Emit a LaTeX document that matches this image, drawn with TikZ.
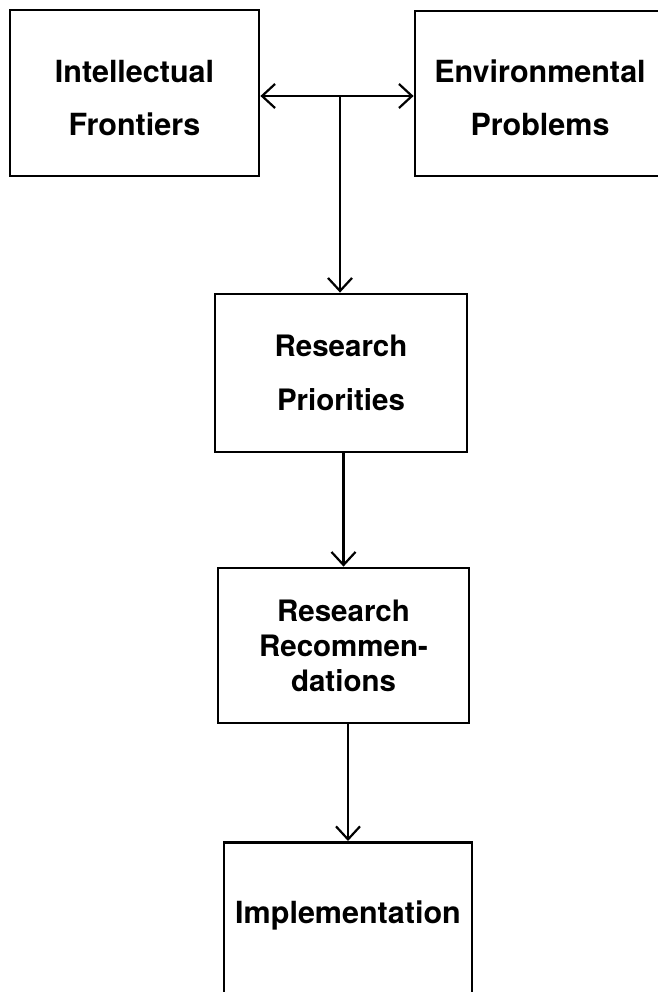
\documentclass[tikz,border=0pt]{standalone}
\usepackage{fontspec}
\setmainfont{TeX Gyre Heros}
\usetikzlibrary{arrows.meta}
\newcommand{\topstrut}{\rule{0pt}{31.5pt}}
\tikzset{
  box/.style={draw, line width=2.8pt, inner sep=0pt, align=center,
    font=\bfseries\fontsize{30.5}{53}\selectfont},
  boxtight/.style={box, font=\bfseries\fontsize{29.5}{35}\selectfont},
  conn/.style={line width=2.2pt, -{Straight Barb[length=13pt,width=24pt]}},
  connboth/.style={line width=2.2pt, {Straight Barb[length=13pt,width=24pt]}-{Straight Barb[length=13pt,width=24pt]}}
}
\begin{document}
\begin{tikzpicture}[x=1pt,y=1pt]
\useasboundingbox (0,0) rectangle (657,-992);
\node[box, minimum width=249pt, minimum height=166pt] (left) at (134.5,-93) {\topstrut Intellectual\\Frontiers};
\node[box, minimum width=250pt, minimum height=165pt] (right) at (540,-93.5) {\topstrut Environmental\\Problems};
\node[box, minimum width=252pt, minimum height=158pt, font=\bfseries\fontsize{29.5}{54}\selectfont] (rp) at (341,-373) {Research\\Priorities};
\node[boxtight, minimum width=251pt, minimum height=155pt] (rec) at (343.5,-645.5) {Research\\Recommen-\\dations};
\node[box, anchor=north, minimum width=248pt, minimum height=180pt, text depth=40pt] (impl) at (348,-841) {Implementation};
\coordinate (jn) at (340,-96);
\draw[connboth] (left.east |- jn) -- (right.west |- jn);
\draw[conn] (jn) -- (jn |- rp.north);
\draw[conn] (rec.north |- rp.south) -- (rec.north);
\draw[conn] (impl.north |- rec.south) -- (impl.north);
\end{tikzpicture}
\end{document}
